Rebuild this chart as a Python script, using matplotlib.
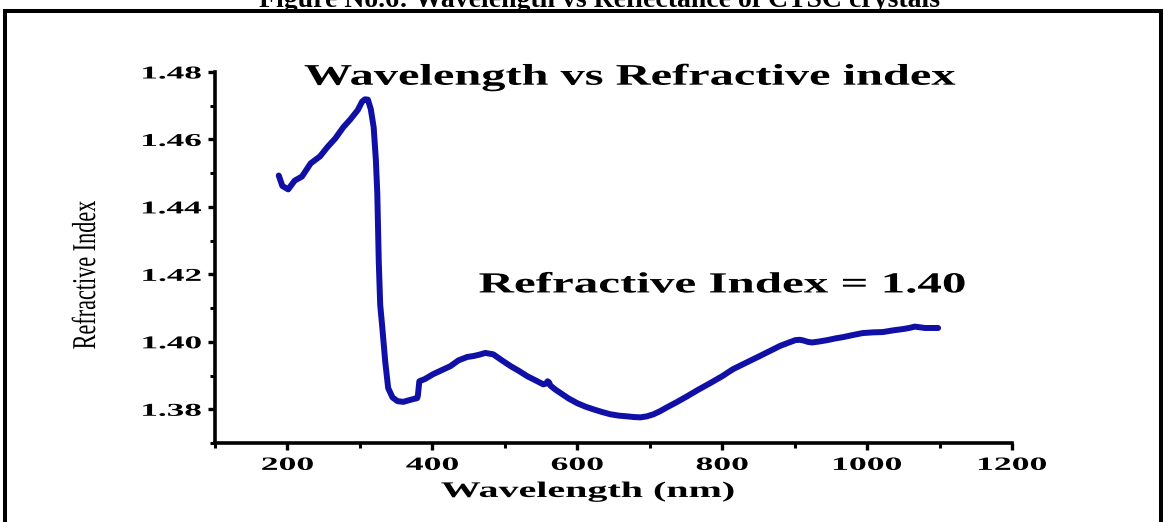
import matplotlib
matplotlib.use('Agg')
import matplotlib.pyplot as plt
from matplotlib.patheffects import AbstractPathEffect
from matplotlib.transforms import Affine2D
from matplotlib.patches import Rectangle
from matplotlib.ticker import MultipleLocator

# Wavelength (nm) and refractive index
wavelength = [188, 193, 201, 210, 220, 232, 245, 255, 266, 277, 287, 297, 303,
              307, 311, 315, 319, 322, 324, 326, 328, 331, 335, 339, 345, 352,
              360, 368, 375, 379, 380, 382, 390, 401, 412, 425, 436, 448, 457,
              465, 473, 484, 496, 508, 520, 531, 543, 553, 557, 559, 561, 563,
              570, 577, 588, 600, 611, 622, 634, 646, 658, 669, 678, 687, 696,
              705, 714, 724, 738, 752, 767, 783, 800, 815, 833, 852, 866, 880,
              891, 901, 907, 912, 918, 924, 934, 945, 956, 967, 980, 994, 1008,
              1022, 1036, 1050, 1058, 1066, 1073, 1080, 1090, 1098]
refr_index = [1.4493, 1.4462, 1.4452, 1.4478, 1.4490, 1.4529, 1.4550, 1.4577,
              1.4603, 1.4636, 1.4660, 1.4687, 1.4712, 1.4719, 1.4718, 1.4690,
              1.4636, 1.4540, 1.4440, 1.4240, 1.4110, 1.4040, 1.3940, 1.3863,
              1.3835, 1.3824, 1.3822, 1.3827, 1.3831, 1.3833, 1.3840, 1.3883,
              1.3890, 1.3904, 1.3915, 1.3928, 1.3945, 1.3955, 1.3958, 1.3962,
              1.3967, 1.3963, 1.3945, 1.3928, 1.3913, 1.3898, 1.3885, 1.3874,
              1.3876, 1.3883, 1.3880, 1.3870, 1.3858, 1.3848, 1.3832, 1.3818,
              1.3808, 1.3800, 1.3792, 1.3785, 1.3781, 1.3779, 1.3777, 1.3776,
              1.3779, 1.3785, 1.3794, 1.3806, 1.3822, 1.3839, 1.3858, 1.3877,
              1.3898, 1.3919, 1.3938, 1.3958, 1.3973, 1.3988, 1.3997, 1.4005,
              1.4006, 1.4004, 1.4000, 1.3998, 1.4001, 1.4005, 1.4010, 1.4014,
              1.4020, 1.4026, 1.4028, 1.4029, 1.4034, 1.4038, 1.4041, 1.4045,
              1.4043, 1.4041, 1.4041, 1.4041]

x_ticks = [200, 400, 600, 800, 1000, 1200]
y_ticks = [1.38, 1.40, 1.42, 1.44, 1.46, 1.48]

SERIF = 'Liberation Serif'
LINE_BLUE = '#1010a6'


class HStretch(AbstractPathEffect):
    """Widen rendered text horizontally about its left/centre/right edge."""

    def __init__(self, sx, anchor='center'):
        super().__init__()
        self.sx = sx
        self.anchor = anchor

    def draw_path(self, renderer, gc, tpath, affine, rgbFace=None):
        ext = affine.transform_path(tpath).get_extents()
        if self.anchor == 'left':
            cx = ext.x0
        elif self.anchor == 'right':
            cx = ext.x1
        else:
            cx = 0.5 * (ext.x0 + ext.x1)
        st = affine + Affine2D().translate(-cx, 0).scale(self.sx, 1).translate(cx, 0)
        renderer.draw_path(gc, tpath, st, rgbFace)


fig = plt.figure(figsize=(11.64, 5.22), dpi=100)
fig.patch.set_facecolor('white')
ax = fig.add_axes([215 / 1164, 1 - 443 / 522, 797 / 1164, 371 / 522])

ax.plot(wavelength, refr_index, color=LINE_BLUE, linewidth=4.3,
        solid_capstyle='round', solid_joinstyle='round')

ax.set_xlim(100, 1200)
ax.set_ylim(1.37, 1.48)
ax.set_xticks(x_ticks)
ax.set_yticks(y_ticks)
ax.set_xticklabels([str(v) for v in x_ticks])
ax.set_yticklabels([f'{v:.2f}' for v in y_ticks])
ax.xaxis.set_minor_locator(MultipleLocator(100))
ax.yaxis.set_minor_locator(MultipleLocator(0.01))

for side in ('top', 'right'):
    ax.spines[side].set_visible(False)
for side in ('left', 'bottom'):
    ax.spines[side].set_linewidth(2.6)
    ax.spines[side].set_capstyle('projecting')

ax.tick_params(which='major', direction='out', length=5, width=2.4, pad=5)
ax.tick_params(which='minor', direction='out', length=3.5, width=2.2)

for lab in ax.get_xticklabels():
    lab.set_fontfamily(SERIF)
    lab.set_fontweight('bold')
    lab.set_fontsize(13.5)
    lab.set_path_effects([HStretch(1.9, 'center')])
for lab in ax.get_yticklabels():
    lab.set_fontfamily(SERIF)
    lab.set_fontweight('bold')
    lab.set_fontsize(13)
    lab.set_path_effects([HStretch(1.95, 'right')])

ax.set_xlabel('Wavelength (nm)', fontfamily=SERIF, fontweight='bold',
              fontsize=16, va='top',
              path_effects=[HStretch(1.8, 'center')])
ax.xaxis.set_label_coords(0.468, -0.105)

ax.set_ylabel('Refractive Index', fontfamily=SERIF, fontsize=16,
              va='center', path_effects=[HStretch(1.5, 'center')])
ax.yaxis.set_label_coords(-0.161, 0.453)

ax.text(0.521, 0.986, 'Wavelength vs Refractive index', transform=ax.transAxes,
        ha='center', va='center', fontfamily=SERIF, fontweight='bold',
        fontsize=21.5, path_effects=[HStretch(1.62, 'center')])
ax.text(0.636, 0.426, 'Refractive Index = 1.40', transform=ax.transAxes,
        ha='center', va='center', fontfamily=SERIF, fontweight='bold',
        fontsize=21, path_effects=[HStretch(1.68, 'center')])

# page caption above the boxed figure (only its lower part is on the canvas)
fig.text(0.515, 1 - 7 / 522, 'Figure No.6: Wavelength vs Reflectance of CTSC crystals',
         ha='center', va='baseline', fontfamily=SERIF, fontweight='bold',
         fontsize=20)

# page frame round the figure
fig.patches.append(Rectangle((5 / 1164, -0.1), 1156 / 1164, 1.1 - 11 / 522,
                             transform=fig.transFigure, fill=False,
                             edgecolor='black', linewidth=2.9))

fig.savefig('out.png', dpi=100, facecolor='white')
